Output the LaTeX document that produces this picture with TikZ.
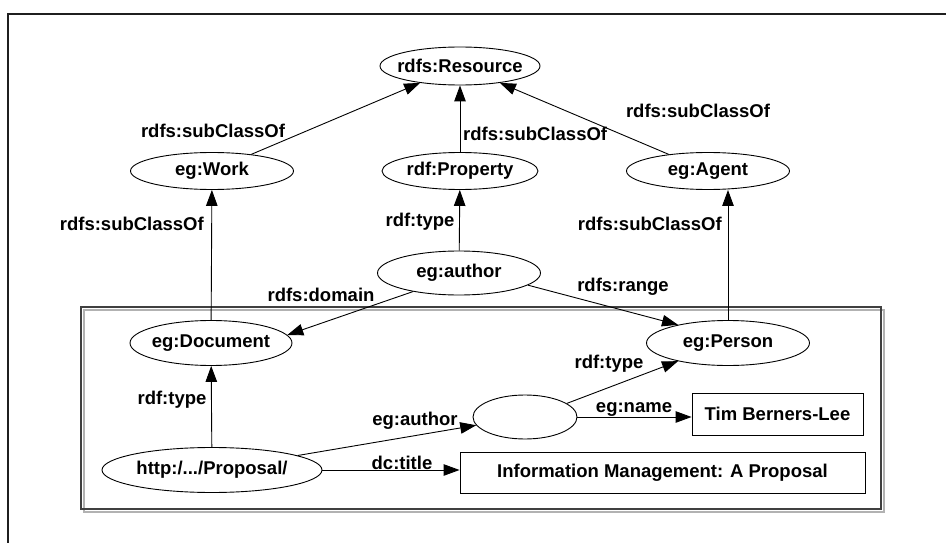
\documentclass[tikz,border=0pt]{standalone}
\usepackage{fontspec}
\setmainfont{Liberation Sans}
\usetikzlibrary{shapes.geometric,arrows.meta}
\newcommand\mkc[1]{\makebox[0pt]{#1}}
\begin{document}
\begin{tikzpicture}[x=1pt,y=-1pt,
  every node/.style={font=\fontsize{18.5}{22}\selectfont\bfseries},
  ell/.style={ellipse,draw,line width=0.9pt,inner sep=0pt},
  boxn/.style={rectangle,draw,line width=0.9pt,inner sep=0pt},
  lab/.style={inner sep=0pt},
  arr/.style={line width=0.9pt,-{Triangle[length=16pt,width=11.5pt]}},
  frame/.style={line width=2pt,draw=black!88}
]
\useasboundingbox (0,0) rectangle (946,543);
\draw[frame] (947,14) -- (8,14) -- (8,544);
% inner double box
\draw[line width=1.3pt,draw=black!30] (84,310) rectangle (884,512);
\draw[line width=1.3pt,draw=black!75] (81,307) rectangle (881,509);

\node[ell,minimum width=160pt,minimum height=38pt] (res) at (460,66) {\mkc{rdfs:Resource}};
\node[ell,minimum width=163pt,minimum height=37pt] (work) at (212,171) {\mkc{eg:Work}};
\node[ell,minimum width=156pt,minimum height=37pt] (prop) at (460,171) {\mkc{rdf:Property}};
\node[ell,minimum width=163pt,minimum height=37pt] (agent) at (708,171) {\mkc{eg:Agent}};
\node[ell,minimum width=163pt,minimum height=44pt] (auth) at (459,273) {\mkc{eg:author}};
\node[ell,minimum width=162pt,minimum height=45pt] (doc) at (211,343) {\mkc{eg:Document}};
\node[ell,minimum width=163pt,minimum height=45pt] (pers) at (728,343) {\mkc{eg:Person}};
\node[ell,minimum width=104pt,minimum height=44pt] (blank) at (525,417) {};
\node[ell,minimum width=220pt,minimum height=45pt] (propos) at (212,470) {\mkc{http:/.../Proposal/}};
\node[boxn,minimum width=171pt,minimum height=42pt] (tim) at (777.5,414) {Tim Berners-Lee};
\node[boxn,minimum width=405pt,minimum height=41pt] (info) at (662.5,472.5) {Information Management: A Proposal};

\draw[arr] (work) -- (res);
\draw[arr] (prop) -- (res);
\draw[arr] (agent) -- (res);
\draw[arr] (auth) -- (prop);
\draw[arr] (doc) -- (work);
\draw[arr] (pers.north) -- (pers.north |- agent.south);
\draw[arr] (auth.202) -- (doc.6);
\draw[arr] (auth.-10) -- (pers.160);
\draw[arr] (propos) -- (doc);
\draw[arr] (propos) -- (blank);
\draw[arr] (blank.18) -- (pers.200);
\draw[arr] (blank.east) -- (blank.east -| tim.west);
\draw[arr] (propos.east) -- (propos.east -| info.west);

\node[lab] (l1) at (213,131) {rdfs:subClassOf};
\node[lab,anchor=west] (l2) at (463,134) {rdfs:subClassOf};
\node[lab] (l3) at (698,111) {rdfs:subClassOf};
\node[lab,anchor=east] (l4) at (204,224) {rdfs:subClassOf};
\node[lab] (l5) at (420,222) {rdf:type};
\node[lab,anchor=east] (l6) at (722,224) {rdfs:subClassOf};
\node[lab] (l7) at (321,295) {rdfs:domain};
\node[lab] (l8) at (623,287) {rdfs:range};
\node[lab] (l9) at (172,400) {rdf:type};
\node[lab] (l10) at (415,421) {eg:author};
\node[lab] (l11) at (609,364) {rdf:type};
\node[lab] (l12) at (634,409) {eg:name};
\node[lab] (l13) at (402,463) {dc:title};
\end{tikzpicture}
\end{document}
